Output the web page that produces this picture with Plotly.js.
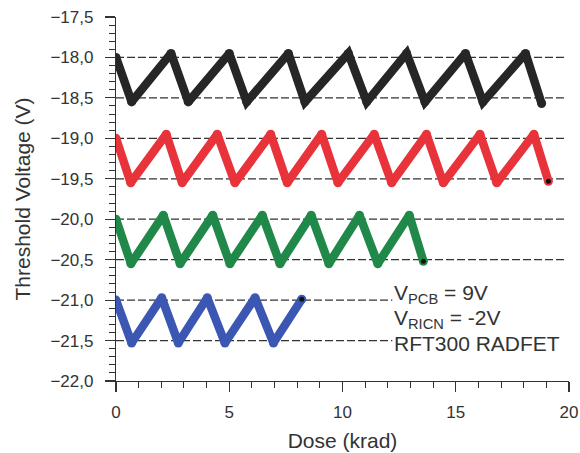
<!DOCTYPE html>
<html>
<head>
<meta charset="utf-8">
<script src="https://cdn.plot.ly/plotly-3.0.1.min.js"></script>
<style>html,body{margin:0;padding:0;background:#fff;}#chart{width:580px;height:453px;}</style>
</head>
<body>
<div id="chart"></div>
<script>
// Sawtooth vertices (dose in krad, threshold voltage in V)
const blackX = [0, 0.69, 2.43, 3.19, 5.0, 5.77, 7.61, 8.34, 10.26, 11.07, 12.83, 13.64, 15.43, 16.2, 18.08, 18.79];
const blackY = [-18.0, -18.55, -17.95, -18.55, -17.95, -18.55, -17.95, -18.55, -17.95, -18.55, -17.95, -18.55, -17.95, -18.55, -17.95, -18.57];

const redX = [0, 0.65, 2.22, 2.92, 4.47, 5.25, 6.83, 7.56, 9.08, 9.8, 11.4, 12.17, 13.71, 14.45, 16.07, 16.81, 18.45, 19.09];
const redY = [-19.0, -19.55, -18.95, -19.55, -18.95, -19.55, -18.95, -19.55, -18.95, -19.55, -18.95, -19.55, -18.95, -19.55, -18.95, -19.55, -18.95, -19.53];

const greenX = [0, 0.66, 2.09, 2.83, 4.27, 5.03, 6.46, 7.24, 8.62, 9.4, 10.75, 11.56, 12.95, 13.57];
const greenY = [-20.0, -20.55, -19.95, -20.55, -19.95, -20.55, -19.95, -20.55, -19.95, -20.55, -19.95, -20.55, -19.95, -20.52];

const blueX = [0, 0.69, 2.02, 2.75, 4.03, 4.81, 6.14, 6.95, 8.2];
const blueY = [-21.0, -21.53, -20.97, -21.53, -20.97, -21.53, -20.97, -21.53, -20.99];

// Dashed reference levels and where they end
const refLevels = [-18.0, -18.5, -19.0, -19.5, -20.0, -20.5, -21.0, -21.5];
const refEnds   = [19.9, 19.9, 19.9, 19.9, 19.9, 19.9, 12.2, 12.2];

const noteLines = ['V<sub>PCB</sub> = 9V', 'V<sub>RICN</sub> = -2V', 'RFT300 RADFET'];
const noteY = [-20.92, -21.23, -21.54];

const series = [
  {x: blackX, y: blackY, color: '#262626', end: false},
  {x: redX, y: redY, color: '#e8333b', end: true},
  {x: greenX, y: greenY, color: '#20894a', end: true},
  {x: blueX, y: blueY, color: '#3b57b3', end: true}
];

const traces = [];
refLevels.forEach((lv, i) => {
  traces.push({x: [0, refEnds[i]], y: [lv, lv], mode: 'lines', hoverinfo: 'skip',
    line: {color: '#333', width: 1.2, dash: '8px,3px'}, showlegend: false});
});
series.forEach(s => {
  traces.push({x: s.x, y: s.y, mode: 'lines+markers', showlegend: false,
    line: {color: s.color, width: 8.5},
    marker: {color: s.color, size: 9}});
  if (s.end) {
    traces.push({x: [s.x[s.x.length-1]], y: [s.y[s.y.length-1]], mode: 'markers', showlegend: false,
      marker: {color: '#111', size: 5}});
  }
});

const fam = 'Liberation Sans, Arial, Helvetica, sans-serif';
const tickFont = {family: fam, size: 17, color: '#333'};
const titleFont = {family: fam, size: 21, color: '#333'};

const layout = {
  width: 580, height: 453,
  margin: {l: 116, r: 11, t: 17, b: 72},
  paper_bgcolor: '#fff', plot_bgcolor: '#fff',
  separators: ', ',
  font: tickFont,
  showlegend: false,
  xaxis: {
    range: [0, 20], tick0: 0, dtick: 5, tickmode: 'linear',
    showgrid: false, zeroline: false, showline: true, linecolor: '#333', linewidth: 1.2,
    ticks: 'outside', ticklen: 10, tickwidth: 1.2, tickcolor: '#333',
    ticklabelstandoff: 5,
    minor: {tickmode: 'linear', tick0: 0, dtick: 1, ticks: 'outside', ticklen: 6, tickwidth: 1, tickcolor: '#333', showgrid: false},
    tickfont: tickFont,
    title: {text: 'Dose (krad)', font: titleFont, standoff: 12},
    automargin: false
  },
  yaxis: {
    range: [-22, -17.5], tick0: -22, dtick: 0.5, tickmode: 'linear', tickformat: '.1f',
    showgrid: false, zeroline: false, showline: true, linecolor: '#333', linewidth: 1.2,
    ticks: 'outside', ticklen: 10, tickwidth: 1.2, tickcolor: '#333',
    ticklabelstandoff: 8,
    minor: {tickmode: 'linear', tick0: -22, dtick: 0.1, ticks: 'outside', ticklen: 6, tickwidth: 1, tickcolor: '#333', showgrid: false},
    tickfont: tickFont,
    title: {text: 'Threshold Voltage (V)', font: titleFont, standoff: 14},
    automargin: false
  },
  annotations: noteLines.map((t, i) => ({
    x: 12.2, y: noteY[i], xref: 'x', yref: 'y', text: t, showarrow: false,
    xanchor: 'left', yanchor: 'middle', font: {family: fam, size: 21, color: '#333'}
  }))
};

Plotly.newPlot('chart', traces, layout, {displayModeBar: false, staticPlot: true});
</script>
</body>
</html>
